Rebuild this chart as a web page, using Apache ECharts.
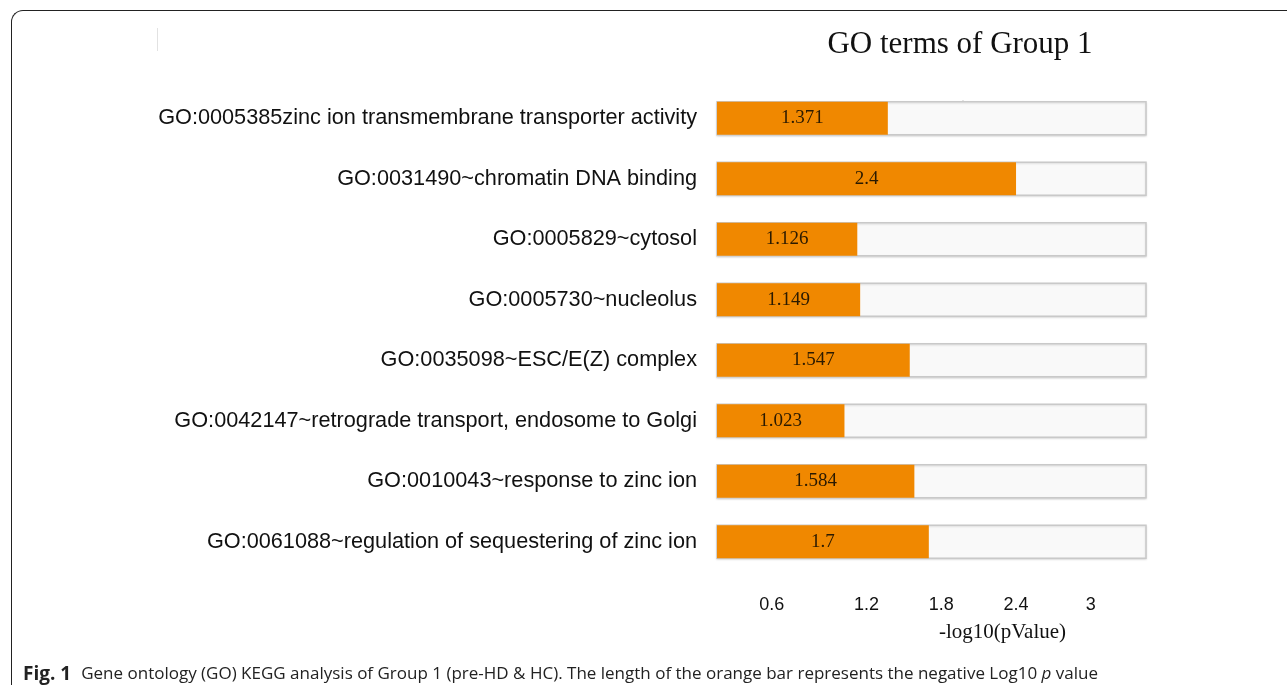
<!DOCTYPE html>
<html>
<head>
<meta charset="utf-8">
<title>GO terms of Group 1</title>
<script src="https://cdn.jsdelivr.net/npm/echarts@6/dist/echarts.min.js"></script>
<style>
  html, body { margin: 0; padding: 0; background: #fff; }
  #frame {
    position: absolute; left: 11px; top: 10px; width: 1300px; height: 700px;
    border-left: 1.5px solid #222; border-top: 1.5px solid #222; border-top-left-radius: 12px;
  }
  #main { position: absolute; left: 0; top: 0; width: 1287px; height: 685px; }
</style>
</head>
<body>
<div id="frame"></div>
<div id="main"></div>
<script>
// GO terms (top to bottom as in the figure)
const terms = [
  'GO:0005385zinc ion transmembrane transporter activity',
  'GO:0031490~chromatin DNA binding',
  'GO:0005829~cytosol',
  'GO:0005730~nucleolus',
  'GO:0035098~ESC/E(Z) complex',
  'GO:0042147~retrograde transport, endosome to Golgi',
  'GO:0010043~response to zinc ion',
  'GO:0061088~regulation of sequestering of zinc ion'
];
// -log10(pValue)
const negLogP = [1.371, 2.4, 1.126, 1.149, 1.547, 1.023, 1.584, 1.7];
const xTicks = [0.6, 1.2, 1.8, 2.4, 3];

let chartDom = document.getElementById('main');
let myChart = echarts.init(chartDom);

let option = {
  animation: false,
  title: [
    {
      text: 'GO terms of Group 1',
      left: 955, top: 24, textAlign: 'center',
      textStyle: { fontFamily: 'Liberation Serif', fontSize: 31, fontWeight: 'normal', color: '#111' }
    },
    {
      // 图注
      text: '{b|Fig. 1}  {n|Gene ontology (GO) KEGG analysis of Group 1 (pre-HD & HC). The length of the orange bar represents the negative Log10 }{i|p}{n| value}',
      left: 18, top: 660,
      textStyle: {
        fontWeight: 'normal',
        rich: {
          b: { fontFamily: 'Open Sans', fontWeight: 'bold', fontSize: 19, color: '#222' },
          n: { fontFamily: 'Open Sans', fontWeight: 'normal', fontSize: 17, color: '#222' },
          i: { fontFamily: 'Open Sans', fontWeight: 'normal', fontStyle: 'italic', fontSize: 17, color: '#222' }
        }
      }
    }
  ],
  grid: { left: 717, right: 141, top: 88, bottom: 113, containLabel: false },
  xAxis: {
    type: 'value',
    min: 0, max: 3.443, interval: 0.6,
    axisLine: { show: false },
    axisTick: { show: false },
    splitLine: { show: false },
    axisLabel: {
      margin: 24,
      showMaxLabel: false,
      fontFamily: 'Liberation Sans', fontSize: 18, color: '#111',
      formatter: function (v) {
        if (!xTicks.includes(Math.round(v * 10) / 10)) return '';
        if (Math.abs(v - 0.6) < 1e-6) return '{s|0.6}';
        return String(Math.round(v * 10) / 10);
      },
      rich: { s: { fontFamily: 'Liberation Sans', fontSize: 18, color: '#111', padding: [0, 40, 0, 0] } }
    },
    name: '-log10(pValue)',
    nameLocation: 'middle',
    nameGap: 50,
    nameTextStyle: { fontFamily: 'Liberation Serif', fontSize: 21, color: '#111', padding: [0, 0, 0, 142] }
  },
  yAxis: {
    type: 'category',
    inverse: true,
    data: terms,
    axisLine: { show: false },
    axisTick: { show: false },
    axisLabel: { margin: 20, fontFamily: 'Liberation Sans', fontSize: 21.7, color: '#111' }
  },
  series: [
    {
      type: 'bar',
      data: negLogP,
      barWidth: 33,
      showBackground: true,
      backgroundStyle: {
        color: '#f9f9f9',
        borderColor: '#c9c9c9',
        borderWidth: 1.5,
        shadowColor: 'rgba(0,0,0,0.12)',
        shadowBlur: 2,
        shadowOffsetY: 1
      },
      itemStyle: { color: '#f08800' },
      label: {
        show: true,
        position: 'inside',
        fontFamily: 'Liberation Serif', fontSize: 19, color: '#2a1a00',
        formatter: function (p) { return String(p.value); }
      }
    }
  ],
  graphic: [
    { type: 'line', shape: { x1: 157.5, y1: 28, x2: 157.5, y2: 51 }, style: { stroke: '#e2e2e2', lineWidth: 1 } },
    { type: 'circle', shape: { cx: 963, cy: 102, r: 1.3 }, style: { fill: '#333' } }
  ]
};

option && myChart.setOption(option);
</script>
</body>
</html>
